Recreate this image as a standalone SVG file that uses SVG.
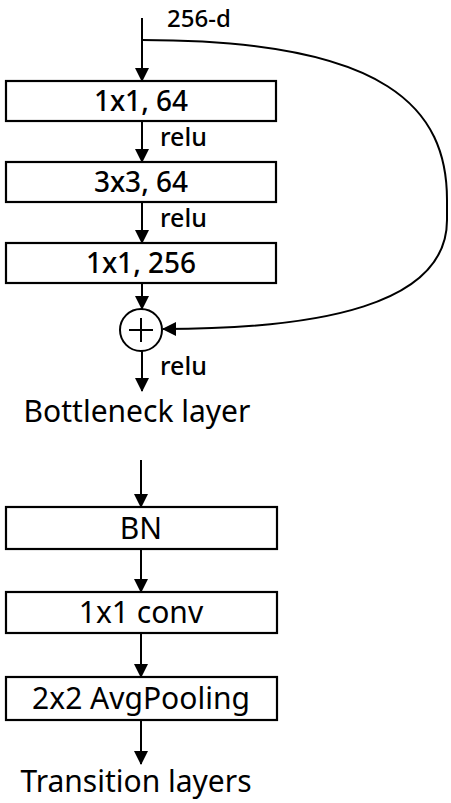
<svg xmlns="http://www.w3.org/2000/svg" width="451" height="803" viewBox="0 0 451 803">
<style>
.box{fill:#fff;stroke:#000;stroke-width:2.2}
.ln{fill:none;stroke:#000;stroke-width:2}
.t1{font-family:"Noto Sans","Liberation Sans",sans-serif;font-size:28px;font-weight:500;text-anchor:middle;fill:#000}
.t2{font-family:"Noto Sans","Liberation Sans",sans-serif;font-size:30px;font-weight:400;text-anchor:middle;fill:#000}
.lb{font-family:"Noto Sans","Liberation Sans",sans-serif;font-size:25px;font-weight:500;fill:#000}
</style>
<defs>
<marker id="ah" viewBox="0 0 14 14" refX="13" refY="7" markerWidth="14" markerHeight="14" markerUnits="userSpaceOnUse" orient="auto">
<path d="M0,0 L14,7 L0,14 Z" fill="#000"/>
</marker>
</defs>
<g id="connectors">
<line class="ln" x1="142" y1="18" x2="142" y2="81" marker-end="url(#ah)"/>
<line class="ln" x1="142" y1="121" x2="142" y2="162" marker-end="url(#ah)"/>
<line class="ln" x1="142" y1="202" x2="142" y2="243" marker-end="url(#ah)"/>
<line class="ln" x1="142" y1="283" x2="142" y2="309" marker-end="url(#ah)"/>
<line class="ln" x1="142" y1="351" x2="142" y2="391" marker-end="url(#ah)"/>
<path class="ln" d="M142,40 C390,40 447,110 447,200 L447,220 C447,305 320,329 163,329" marker-end="url(#ah)"/>
<line class="ln" x1="141" y1="460" x2="141" y2="507" marker-end="url(#ah)"/>
<line class="ln" x1="141" y1="549" x2="141" y2="592" marker-end="url(#ah)"/>
<line class="ln" x1="141" y1="633" x2="141" y2="677" marker-end="url(#ah)"/>
<line class="ln" x1="141" y1="720" x2="141" y2="764" marker-end="url(#ah)"/>
</g>
<text class="lb" x="167" y="27" style="font-size:24px">256-d</text>
<g id="b1"><rect class="box" x="6" y="81" width="270" height="40"/><text class="t1" x="141" y="111">1x1, 64</text></g>
<text class="lb" x="160" y="146">relu</text>
<g id="b2"><rect class="box" x="6" y="162" width="270" height="40"/><text class="t1" x="141" y="192">3x3, 64</text></g>
<text class="lb" x="160" y="227">relu</text>
<g id="b3"><rect class="box" x="6" y="243" width="270" height="40"/><text class="t1" x="141" y="273">1x1, 256</text></g>
<g id="add"><circle cx="141" cy="330" r="21" fill="#fff" stroke="#000" stroke-width="2"/><line class="ln" x1="129" y1="330" x2="153" y2="330"/><line class="ln" x1="141" y1="318" x2="141" y2="342"/></g>
<text class="lb" x="160" y="375">relu</text>
<text class="t2" x="137" y="422">Bottleneck layer</text>
<g id="bn"><rect class="box" x="6" y="507" width="271" height="42"/><text class="t2" x="141" y="539">BN</text></g>
<g id="conv"><rect class="box" x="6" y="592" width="271" height="41"/><text class="t2" x="141" y="623">1x1 conv</text></g>
<g id="pool"><rect class="box" x="6" y="677" width="271" height="43"/><text class="t2" x="141" y="709">2x2 AvgPooling</text></g>
<text class="t2" x="136" y="792">Transition layers</text>
</svg>
